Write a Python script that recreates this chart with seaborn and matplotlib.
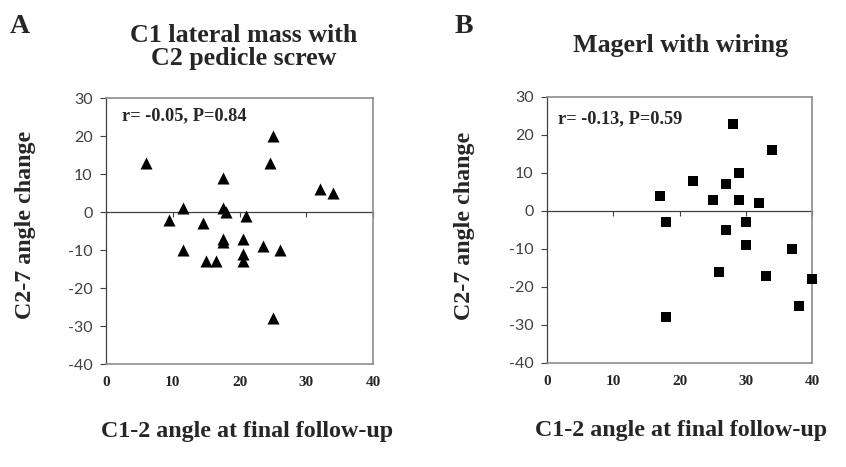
import matplotlib
matplotlib.use("Agg")
import matplotlib.pyplot as plt
import seaborn as sns
import pandas as pd

# ---- data ----
a_x = [6, 25, 24.5, 17.5, 32, 34, 11.5, 17.5, 18, 21, 9.5, 14.5,
       17.5, 17.5, 20.5, 23.5, 11.5, 26, 20.5, 15, 16.5, 20.5, 25]
a_y = [13, 20, 13, 9, 6, 5, 1, 1, 0, -1, -2, -3,
       -7, -8, -7, -9, -10, -10, -11, -13, -13, -13, -28]

b_x = [28, 34, 29, 22, 27, 17, 25, 29, 32, 18, 30, 27,
       30, 37, 26, 33, 40, 38, 18]
b_y = [23, 16, 10, 8, 7, 4, 3, 3, 2, -3, -3, -5,
       -9, -10, -16, -17, -18, -25, -28]

x_ticks = [0, 10, 20, 30, 40]
y_ticks = [-40, -30, -20, -10, 0, 10, 20, 30]
panel_letters = ["A", "B"]
title_a = ["C1 lateral mass with", "C2 pedicle screw"]
title_b = "Magerl with wiring"
stat_a = "r= -0.05, P=0.84"
stat_b = "r= -0.13, P=0.59"
x_label = "C1-2 angle at final follow-up"
y_label = "C2-7 angle change"

df_a = pd.DataFrame({"x": a_x, "y": a_y})
df_b = pd.DataFrame({"x": b_x, "y": b_y})

sns.set_theme(style="white")
plt.rcParams["font.family"] = ["Liberation Serif", "DejaVu Serif"]

W, H = 846, 467
fig = plt.figure(figsize=(W / 100, H / 100), dpi=100)
axA = fig.add_axes([106 / W, 1 - 364 / H, 267 / W, 266 / H])
axB = fig.add_axes([547 / W, 1 - 363 / H, 265 / W, 266 / H])

AXCOL = "#404040"
BORDER = "#8c8c8c"


def style(ax, df, marker, size, stat, stat_xy, ylab_xy, xlab_xy):
    sns.scatterplot(data=df, x="x", y="y", marker=marker, s=size, color="black",
                    linewidth=0, ax=ax, clip_on=False, zorder=4)
    ax.set_xlim(0, 40)
    ax.set_ylim(-40, 30)
    ax.set_xticks(x_ticks)
    ax.set_xticklabels([str(v) for v in x_ticks], fontweight="bold", fontsize=11)
    ax.set_yticks(y_ticks)
    ax.set_yticklabels([str(v) for v in y_ticks], fontfamily=["Lato", "DejaVu Sans"],
                       fontsize=11.5, color=AXCOL)
    for sp in ax.spines.values():
        sp.set_visible(True)
        sp.set_color(BORDER)
        sp.set_linewidth(1.2)
    ax.spines["left"].set_color(AXCOL)
    ax.spines["left"].set_linewidth(0.9)
    ax.tick_params(axis="y", direction="out", left=True, length=4.5, width=0.8,
                   color=AXCOL, pad=5)
    ax.tick_params(axis="x", bottom=True, length=0, pad=8.5)
    ax.grid(False)

    # x-axis line crossing at y = 0 with downward tick marks
    sec = ax.secondary_xaxis(40 / 70)
    sec.set_alignment("bottom")
    sec.set_xticks(x_ticks)
    sec.tick_params(axis="x", direction="out", length=3.5, width=0.8, color=AXCOL,
                    labelbottom=False, bottom=True)
    sec.spines["bottom"].set_color(AXCOL)
    sec.spines["bottom"].set_linewidth(0.9)

    ax.text(stat_xy[0], stat_xy[1], stat, transform=ax.transAxes, ha="left",
            va="center", fontsize=13.2, fontweight="bold")

    ax.set_xlabel(x_label, fontsize=17.3, fontweight="bold", va="top")
    ax.xaxis.set_label_coords(xlab_xy[0], xlab_xy[1])
    ax.set_ylabel(y_label, fontsize=17.3, fontweight="bold")
    ax.yaxis.set_label_coords(ylab_xy[0], ylab_xy[1])


style(axA, df_a, "^", 75, stat_a, (0.06, 0.932), (-0.262, 0.523), (0.528, -0.215))
style(axB, df_b, "s", 62, stat_b, (0.04, 0.917), (-0.272, 0.517), (0.505, -0.215))

# panel letters and titles
fig.text(10 / W, 1 - 33 / H, panel_letters[0], fontsize=20, fontweight="bold",
         ha="left", va="baseline")
fig.text(455 / W, 1 - 33 / H, panel_letters[1], fontsize=20, fontweight="bold",
         ha="left", va="baseline")
fig.text(244 / W, 1 - 42 / H, title_a[0], fontsize=18.7, fontweight="bold",
         ha="center", va="baseline")
fig.text(244 / W, 1 - 65 / H, title_a[1], fontsize=18.7, fontweight="bold",
         ha="center", va="baseline")
fig.text(680 / W, 1 - 52 / H, title_b, fontsize=18.7, fontweight="bold",
         ha="center", va="baseline")

fig.savefig("out.png", dpi=100, facecolor="white")
